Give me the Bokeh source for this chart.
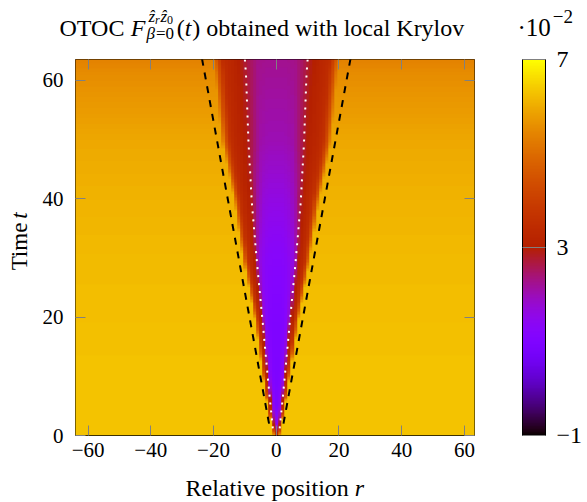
import numpy as np
from bokeh.plotting import figure
from bokeh.layouts import column, row
from bokeh.models import (LinearColorMapper, ColorBar, FixedTicker, Label,
                          Range1d, LinearAxis)
from bokeh.embed import file_html
from bokeh.resources import INLINE

# ------------------------------------------------------------------ data
X_TICKS = [-60, -40, -20, 0, 20, 40, 60]
Y_TICKS = [0, 20, 40, 60]
CBAR_TICKS = [-1, 3, 7]
CBAR_LOW, CBAR_HIGH = -1.0, 7.0          # colour scale, units of 1e-2
SITES = list(range(-64, 64))              # relative positions r
T_MAX, DT = 64.0, 0.25                    # time grid of the map

T_ROWS = [0.0, 2.0, 5.0, 10.0, 19.0, 29.2, 39.4, 49.5, 61.0, 63.5]
# outer radius of the cone (where the colour leaves the background)
CONE_RADIUS = [1.0, 1.8, 2.8, 4.3, 6.8, 10.6, 13.5, 17.5, 19.5, 20.2]
# value far outside the cone
BACKGROUND = [6.3, 6.3, 6.3, 6.3, 6.25, 6.2, 6.1, 5.95, 5.55, 5.35]
# profile inside the cone, at |r| / radius = S_KNOTS
S_KNOTS = [0.0, 0.15, 0.30, 0.45, 0.55, 0.65, 0.75, 0.85, 0.93]
PROFILE_T00 = [3.6, 3.6, 3.7, 3.9, 4.1, 4.4, 4.8, 5.2, 5.7]
PROFILE_T02 = [1.5, 1.6, 1.9, 2.4, 2.8, 3.2, 3.6, 4.1, 4.9]
PROFILE_T05 = [1.0, 1.05, 1.2, 1.6, 2.2, 3.0, 3.4, 3.9, 4.8]
PROFILE_T10 = [0.95, 0.95, 1.05, 1.3, 1.8, 2.9, 3.3, 3.8, 4.8]
PROFILE_T19 = [1.0, 1.0, 1.05, 1.25, 1.7, 2.8, 3.3, 3.8, 4.8]
PROFILE_T29 = [1.2, 1.2, 1.3, 1.5, 2.0, 3.0, 3.3, 3.6, 4.6]
PROFILE_T39 = [1.6, 1.6, 1.7, 2.1, 2.7, 3.1, 3.3, 3.6, 4.5]
PROFILE_T50 = [2.0, 2.0, 2.1, 2.6, 2.95, 3.15, 3.3, 3.6, 4.5]
PROFILE_T61 = [2.2, 2.2, 2.25, 2.6, 2.9, 3.15, 3.3, 3.5, 4.4]
PROFILE_T64 = [2.25, 2.25, 2.3, 2.6, 2.9, 3.15, 3.3, 3.5, 4.4]

# black dashed light cone
DASH_T = [2.0, 64.0]
DASH_R = [2.3, 23.8]
# white dotted front
DOT_T = [1.2, 7.6, 12.4, 19.0, 29.2, 39.4, 49.5, 61.0, 63.5]
DOT_R = [1.1, 2.3, 3.15, 4.3, 6.15, 7.8, 8.85, 9.65, 10.0]

# ------------------------------------------------------------------ map
PROFILES = [PROFILE_T00, PROFILE_T02, PROFILE_T05, PROFILE_T10, PROFILE_T19,
            PROFILE_T29, PROFILE_T39, PROFILE_T50, PROFILE_T61, PROFILE_T64]
prof_arr = np.array(PROFILES)
times = np.arange(0, T_MAX, DT) + DT / 2
sites = np.array(SITES, dtype=float)
Z = np.zeros((len(times), len(sites)))
for i, t in enumerate(times):
    R = np.interp(t, T_ROWS, CONE_RADIUS)
    B = np.interp(t, T_ROWS, BACKGROUND)
    prof = [np.interp(t, T_ROWS, prof_arr[:, k]) for k in range(len(S_KNOTS))]
    s = np.abs(sites) / R
    Z[i] = np.interp(s, S_KNOTS + [1.0], prof + [B])
Zup = np.repeat(Z, 4, axis=1)

# gnuplot default palette (rgbformulae 7,5,15)
xs = np.linspace(0, 1, 256)
palette = ['#%02x%02x%02x' % (int(round(255 * np.sqrt(x))),
                              int(round(255 * x ** 3)),
                              int(round(255 * max(np.sin(2 * np.pi * x), 0.0))))
           for x in xs]
mapper = LinearColorMapper(palette=palette, low=CBAR_LOW, high=CBAR_HIGH)

# ------------------------------------------------------------------ layout
FONT = "Liberation Serif"
PAGE_W, PAGE_H = 587, 502
HEAD_H = 44            # title strip
FOOT_H = 33            # x-label strip
YLAB_W = 36            # y-label strip
MAIN_W = PAGE_W - YLAB_W
MAIN_H = PAGE_H - HEAD_H - FOOT_H
F_LEFT, F_RIGHT, F_TOP, F_BOT = 75, 474, 59, 435      # frame, page pixels
XR = (-64.0, 63.2)
YR = (0.0, 63.5)

p = figure(width=MAIN_W, height=MAIN_H, x_range=Range1d(*XR), y_range=Range1d(*YR),
           output_backend="svg", toolbar_location=None,
           min_border_left=F_LEFT - YLAB_W, min_border_right=PAGE_W - F_RIGHT,
           min_border_top=F_TOP - HEAD_H, min_border_bottom=HEAD_H + MAIN_H - F_BOT)
p.grid.visible = False
p.outline_line_color = "black"
p.outline_line_width = 1
p.background_fill_color = "white"
p.border_fill_color = "white"

p.image(image=[Zup], x=sites[0] - 0.5, y=0, dw=len(sites), dh=T_MAX,
        color_mapper=mapper)

for sgn in (1, -1):
    p.line(x=[sgn * v for v in DASH_R], y=DASH_T, line_color="black",
           line_width=2, line_dash="7 7")
    p.line(x=[sgn * v for v in DOT_R], y=DOT_T, line_color="white",
           line_width=2, line_dash="2 6")

def style_axis(ax, show_labels, standoff, ticks):
    ax.axis_line_color = None
    ax.major_tick_line_color = "#808080"
    ax.major_tick_in = 10
    ax.major_tick_out = 0
    ax.minor_tick_line_color = None
    ax.major_label_text_font = FONT
    ax.major_label_text_color = "black"
    ax.major_label_text_font_size = "21px"
    ax.major_label_standoff = standoff
    if show_labels:
        ax.major_label_overrides = {v: str(v).replace('-', '\u2212') for v in ticks}
    else:
        ax.major_label_overrides = {v: "" for v in ticks}

p.xaxis.ticker = FixedTicker(ticks=X_TICKS)
p.yaxis.ticker = FixedTicker(ticks=Y_TICKS)
style_axis(p.xaxis[0], True, 7, X_TICKS)
style_axis(p.yaxis[0], True, 12, Y_TICKS)
top = LinearAxis(ticker=FixedTicker(ticks=X_TICKS))
style_axis(top, False, 0, X_TICKS)
p.add_layout(top, "above")
right = LinearAxis(ticker=FixedTicker(ticks=Y_TICKS))
style_axis(right, False, 0, Y_TICKS)
p.add_layout(right, "right")

cbar = ColorBar(color_mapper=mapper, ticker=FixedTicker(ticks=CBAR_TICKS),
                major_label_overrides={-1: "\u22121", 3: "3", 7: "7"},
                width=23, height=F_BOT - F_TOP, location=(522 - F_LEFT, 0),
                padding=0, margin=0, label_standoff=11,
                major_label_text_font=FONT, major_label_text_font_size="24px",
                major_label_text_color="black",
                major_tick_line_color="#808080", major_tick_in=23,
                major_tick_out=0, minor_tick_line_color=None,
                bar_line_color="black", border_line_color=None,
                background_fill_alpha=0)
p.add_layout(cbar, "center")

# ------------------------------------------------------------------ text strips
def strip(w, h):
    f = figure(width=w, height=h, x_range=Range1d(0, w), y_range=Range1d(0, h),
               x_axis_type=None, y_axis_type=None, min_border=0,
               toolbar_location=None, output_backend="svg")
    f.grid.visible = False
    f.outline_line_color = None
    f.background_fill_color = "white"
    f.border_fill_color = "white"
    return f

head = strip(PAGE_W, HEAD_H)
foot = strip(PAGE_W, FOOT_H)
ylab = strip(YLAB_W, MAIN_H)

EM = {' ': .25, 'O': .722, 'T': .611, 'C': .667, 'F': .611, '(': .333, ')': .333,
      't': .278, 'o': .5, 'b': .5, 'a': .444, 'i': .278, 'n': .5, 'e': .444,
      'd': .5, 'w': .722, 'h': .5, 'l': .278, 'c': .444, 'K': .722, 'r': .36,
      'y': .5, 'v': .5, '\u1e91': .389, '0': .5, '\u03b2': .5, '=': .6,
      '\u00b7': .25, '1': .5, '\u2212': .564, '2': .5, 'R': .667, 'p': .5,
      's': .389, 'm': .778}

def tw(s, size):
    return sum(EM.get(c, .5) for c in s) * size

def txt(f, s, x, y, size, style="normal", angle=0.0, baseline="alphabetic",
        align="left"):
    f.add_layout(Label(x=x, y=y, text=s, angle=angle,
                       text_font=FONT, text_font_size=f"{size}px",
                       text_font_style=style, text_color="black",
                       text_align=align, text_baseline=baseline))

# title (page coordinates -> head strip: y up from strip bottom)
def hy(page_y):
    return HEAD_H - page_y

TS, SS, SSS = 24, 17, 12
base = 27
x0 = 59
txt(head, "OTOC", x0, hy(base), TS)
txt(head, "F", x0 + tw("OTOC ", TS), hy(base), TS, "italic")
xs_ = x0 + tw("OTOC F", TS) + 3
x1 = xs_
txt(head, "\u1e91", x1, hy(base - 11), SS, "italic")
x1 += tw("\u1e91", SS)
txt(head, "r", x1, hy(base - 8), SSS, "italic")
x1 += tw("r", SSS) + 1
txt(head, "\u1e91", x1, hy(base - 11), SS, "italic")
x1 += tw("\u1e91", SS)
txt(head, "0", x1, hy(base - 8), SSS)
x1 += tw("0", SSS)
xb = xs_ - 2
txt(head, "\u03b2", xb, hy(base + 6), SS, "italic")
xb += tw("\u03b2", SS) + 1
txt(head, "=0", xb, hy(base + 6), SS)
xb += tw("=0", SS)
x = max(x1, xb) + 2
txt(head, "(", x, hy(base), TS)
x += tw("(", TS)
txt(head, "t", x, hy(base), TS, "italic")
x += tw("t", TS) + 1
txt(head, ") obtained with local Krylov", x, hy(base), TS)

# colour-bar multiplier
txt(head, "\u00b710", 517, hy(base), 25)
txt(head, "\u22122", 517 + tw("\u00b710", 25) + 4, hy(base - 11), 19)

# x label (footer strip)
AS = 24
xl_w = tw("Relative position ", AS) + tw("r", AS)
xl0 = 274 - xl_w / 2
fy = FOOT_H - (487 - (PAGE_H - FOOT_H))
txt(foot, "Relative position", xl0, fy, AS, baseline="middle")
txt(foot, "r", xl0 + tw("Relative position ", AS), fy, AS, "italic", baseline="middle")

# y label (left strip), rotated
YS = 23
yl_w = tw("Time ", YS) + tw("t", YS) + 4
ycen = (HEAD_H + MAIN_H) - 250
txt(ylab, "Time", 18.5, ycen - yl_w / 2, YS, angle=np.pi / 2, baseline="middle")
txt(ylab, "t", 18.5, ycen - yl_w / 2 + tw("Time ", YS) + 4, YS, "italic",
    angle=np.pi / 2, baseline="middle")

layout = column(head, row(ylab, p, spacing=0), foot, spacing=0)
open("out.html", "w").write(file_html(layout, INLINE))
